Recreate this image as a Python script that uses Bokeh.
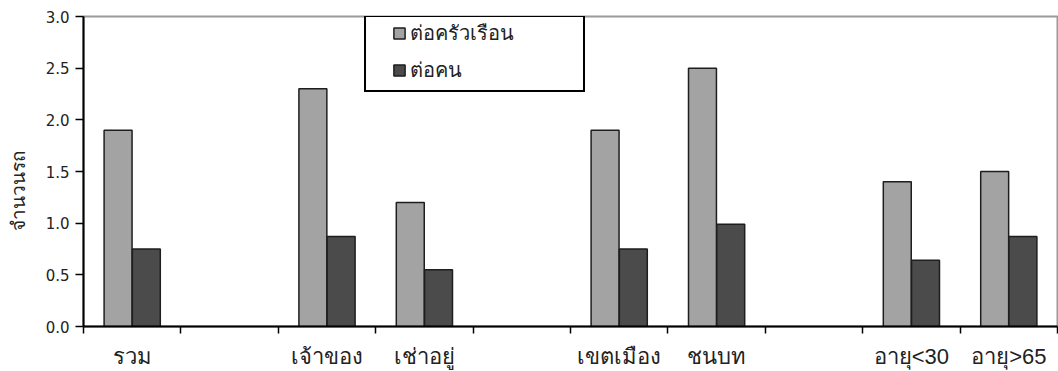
from bokeh.plotting import figure
from bokeh.models import (Range1d, FixedTicker, NumeralTickFormatter, Legend,
                          LegendItem, ColumnDataSource, Title)
from bokeh.embed import file_html
from bokeh.resources import INLINE
from bokeh.transform import dodge

categories = ["รวม", "", "เจ้าของ", "เช่าอยู่", "", "เขตเมือง", "ชนบท", "", "อายุ<30", "อายุ>65"]
per_household = [1.9, None, 2.3, 1.2, None, 1.9, 2.5, None, 1.4, 1.5]
per_person = [0.75, None, 0.87, 0.55, None, 0.75, 0.99, None, 0.64, 0.87]
series_names = ["ต่อครัวเรือน", "ต่อคน"]
y_ticks = [0.0, 0.5, 1.0, 1.5, 2.0, 2.5, 3.0]
y_label = "จำนวนรถ"

FONT = "Liberation Sans"
NUMFONT = "DejaVu Sans"

xs = [i + 0.5 for i in range(len(categories))]
keep = [i for i, v in enumerate(per_household) if v is not None]
src = ColumnDataSource(dict(
    x=[xs[i] for i in keep],
    hh=[per_household[i] for i in keep],
    pp=[per_person[i] for i in keep],
))

p = figure(width=1058, height=371, output_backend="svg", toolbar_location=None,
           x_range=Range1d(0, len(categories)), y_range=Range1d(0, 3.0),
           min_border_left=83, min_border_right=1, min_border_top=16, min_border_bottom=45)
p.grid.visible = False
p.background_fill_color = "white"
p.border_fill_color = "white"
p.outline_line_color = "#9a9a9a"
p.outline_line_width = 2

r1 = p.vbar(x=dodge("x", -0.145, range=p.x_range), top="hh", width=0.287, source=src,
            fill_color="#a3a3a3", line_color="#1e1e1e", line_width=1.5)
r2 = p.vbar(x=dodge("x", 0.145, range=p.x_range), top="pp", width=0.287, source=src,
            fill_color="#4b4b4b", line_color="#1e1e1e", line_width=1.5)
# invisible renderer used only to draw the legend frame
r_box = p.vbar(x=[], top=[], width=0.1, fill_alpha=0, line_alpha=0)

# x axis
xa = p.xaxis[0]
xa.ticker = FixedTicker(ticks=xs, minor_ticks=list(range(len(categories) + 1)))
xa.major_label_overrides = {x: c for x, c in zip(xs, categories)}
xa.major_tick_line_color = None
xa.major_tick_out = 0
xa.major_tick_in = 0
xa.minor_tick_out = 7
xa.minor_tick_in = 0
xa.minor_tick_line_color = "black"
xa.minor_tick_line_width = 1.5
xa.axis_line_width = 2
xa.axis_line_color = "black"
xa.major_label_standoff = 10
xa.major_label_text_font = FONT
xa.major_label_text_font_size = "22px"
xa.major_label_text_color = "#222222"

# y axis
ya = p.yaxis[0]
ya.ticker = FixedTicker(ticks=y_ticks)
ya.formatter = NumeralTickFormatter(format="0.0")
ya.major_tick_out = 8
ya.major_tick_in = 0
ya.minor_tick_line_color = None
ya.major_tick_line_width = 1.5
ya.axis_line_width = 2
ya.axis_line_color = "black"
ya.major_label_standoff = 6
ya.major_label_text_font = NUMFONT
ya.major_label_text_font_size = "15px"
ya.major_label_text_color = "#222222"

spacer = Title(text=" ", standoff=11, text_font_size="1px")
p.add_layout(spacer, "left")
ytitle = Title(text=y_label, align="left", offset=96, standoff=0,
               text_font=FONT, text_font_size="19px", text_font_style="normal",
               text_color="#222222")
p.add_layout(ytitle, "left")

box_legend = Legend(items=[LegendItem(label=" ", renderers=[r_box])],
                    location=(281, 234), padding=0, margin=0, spacing=0,
                    glyph_width=1, glyph_height=1, label_width=216, label_height=73,
                    label_standoff=0, border_line_color="black", border_line_width=2,
                    border_line_alpha=1.0,
                    background_fill_color="white", background_fill_alpha=1.0)
p.add_layout(box_legend)

legend = Legend(items=[LegendItem(label=series_names[0], renderers=[r1]),
                       LegendItem(label=series_names[1], renderers=[r2])],
                location=(309, 240), padding=0, margin=0, spacing=5,
                glyph_width=14, glyph_height=14, label_height=24,
                label_standoff=4, label_text_font=FONT,
                label_text_font_size="20px", label_text_color="#222222",
                border_line_alpha=0, background_fill_alpha=0)
p.add_layout(legend)

open("out.html", "w").write(file_html(p, INLINE))
